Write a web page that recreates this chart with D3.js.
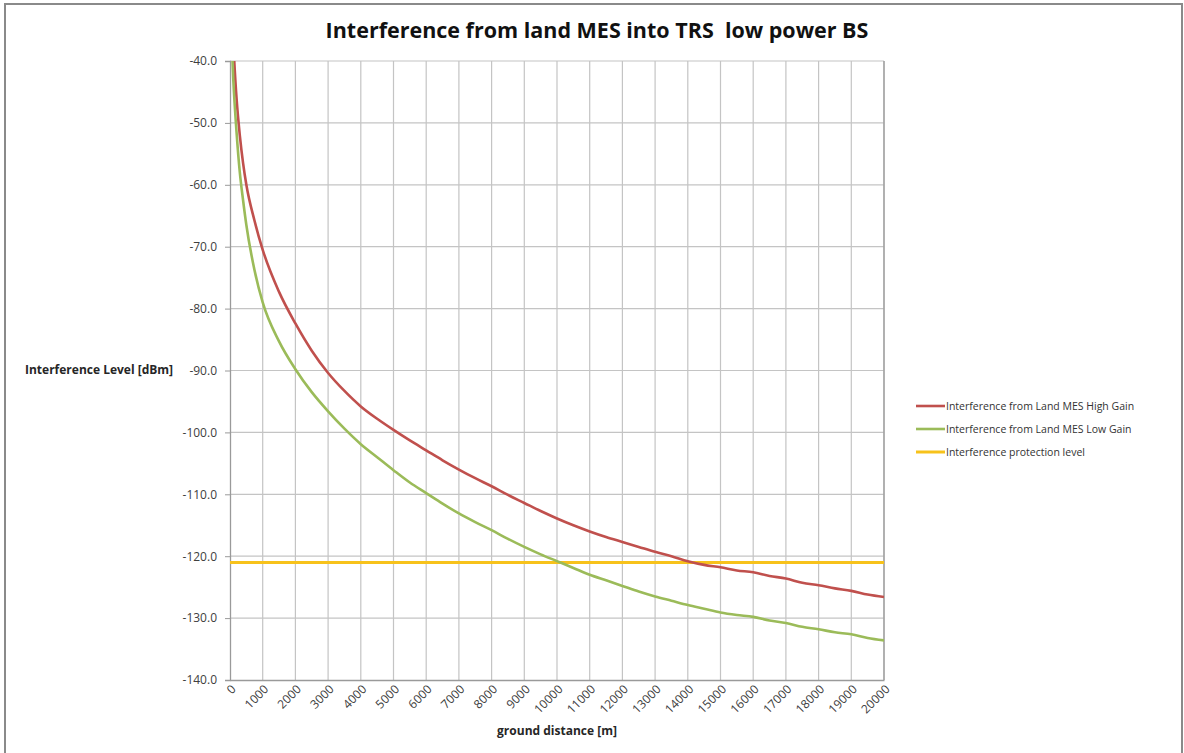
<!DOCTYPE html>
<html>
<head>
<meta charset="utf-8">
<script src="https://cdn.jsdelivr.net/npm/d3@7"></script>
<style>
  body { margin: 0; background: #fff; }
  svg { font-family: "Open Sans", "Liberation Sans", sans-serif; }
</style>
</head>
<body>
<script>
// data
var distances = [0, 100, 200, 300, 400, 500, 750, 1000, 1500, 2000, 2500, 3000, 3500, 4000, 4500,
  5000, 5500, 6000, 6500, 7000, 7500, 8000, 8500, 9000, 9500, 10000, 10500, 11000, 11500,
  12000, 12500, 13000, 13500, 14000, 14500, 15000, 15500, 16000, 16500, 17000, 17500,
  18000, 18500, 19000, 19500, 20000];
var highGain = [-25, -37, -46, -52, -56.5, -60, -65.8, -70.5, -77.3, -82.4, -86.8, -90.4, -93.3, -95.8, -97.8,
  -99.6, -101.3, -102.9, -104.5, -106.0, -107.4, -108.7, -110.1, -111.4, -112.7, -113.9, -115.0, -116.0, -116.9,
  -117.7, -118.5, -119.3, -120.0, -120.8, -121.4, -121.8, -122.3, -122.6, -123.2, -123.6, -124.3,
  -124.7, -125.2, -125.6, -126.2, -126.6];
var lowGain = [-30, -43, -51.5, -58, -62.5, -66.5, -73.8, -79, -85.3, -89.8, -93.5, -96.6, -99.4, -101.9, -104,
  -106.1, -108.1, -109.8, -111.5, -113.1, -114.5, -115.8, -117.2, -118.5, -119.7, -120.8, -121.9, -123.0, -123.9,
  -124.8, -125.7, -126.5, -127.2, -127.9, -128.5, -129.1, -129.5, -129.8, -130.4, -130.8, -131.4,
  -131.8, -132.3, -132.6, -133.2, -133.6];
var protectionLevel = -121;
var xTicks = d3.range(0, 20001, 1000);
var yTicks = d3.range(-140, -39, 10);
var seriesNames = ["Interference from Land MES High Gain", "Interference from Land MES Low Gain", "Interference protection level"];
var seriesColors = ["#c0504d", "#9bbb59", "#f7c21b"];

// svg container
var width = 1184;
var height = 753;

var plot = { left: 230, right: 884, top: 61, bottom: 680 };

var svg = d3.select("body").append("svg")
    .attr("width", width)
    .attr("height", height);

// outer chart border
svg.append("rect")
    .attr("x", 5).attr("y", 4)
    .attr("width", 1177).attr("height", 752)
    .attr("fill", "#fff")
    .attr("stroke", "#8a8a8a")
    .attr("stroke-width", 2);

// scales
var xScale = d3.scaleLinear().domain([0, 20000]).range([plot.left, plot.right]);
var yScale = d3.scaleLinear().domain([-140, -40]).range([plot.bottom, plot.top]);

// gridlines
svg.append("g").selectAll("line")
    .data(xTicks.slice(1))
    .enter().append("line")
    .attr("x1", d => xScale(d)).attr("x2", d => xScale(d))
    .attr("y1", plot.top).attr("y2", plot.bottom)
    .attr("stroke", "#c4c4c4").attr("stroke-width", 1.2);

svg.append("g").selectAll("line")
    .data(yTicks.slice(1))
    .enter().append("line")
    .attr("x1", plot.left).attr("x2", plot.right)
    .attr("y1", d => yScale(d)).attr("y2", d => yScale(d))
    .attr("stroke", "#c4c4c4").attr("stroke-width", 1.2);

// y axis (plain hyphen for the minus sign, as in the original)
var yAxis = d3.axisLeft(yScale)
    .tickValues(yTicks)
    .tickFormat(d => d.toFixed(1))
    .tickSize(5)
    .tickPadding(8);

var yAxisG = svg.append("g")
    .attr("transform", `translate(${plot.left}, 0)`)
    .call(yAxis);
yAxisG.select(".domain").attr("stroke", "#9a9a9a").attr("stroke-width", 1.3);
yAxisG.selectAll(".tick line").attr("stroke", "#9a9a9a");
yAxisG.selectAll("text")
    .attr("fill", "#404040")
    .style("font-size", "12px")
    .style("font-family", "'Open Sans', sans-serif");

// x axis
var xAxis = d3.axisBottom(xScale)
    .tickValues(xTicks)
    .tickFormat(d => String(d))
    .tickSize(0);

var xAxisG = svg.append("g")
    .attr("transform", `translate(0, ${plot.bottom})`)
    .call(xAxis);
xAxisG.select(".domain").attr("stroke", "#9a9a9a").attr("stroke-width", 1.3);
xAxisG.selectAll("text")
    .attr("fill", "#404040")
    .attr("text-anchor", "end")
    .attr("dy", null)
    .attr("y", 0)
    .attr("transform", "translate(6, 10) rotate(-45)")
    .style("font-size", "12px")
    .style("font-family", "'Open Sans', sans-serif");

// right edge of plot area
svg.append("line")
    .attr("x1", plot.right).attr("x2", plot.right)
    .attr("y1", plot.top).attr("y2", plot.bottom)
    .attr("stroke", "#9a9a9a").attr("stroke-width", 1.3);

// clip to plot area
svg.append("clipPath").attr("id", "plotClip")
  .append("rect")
    .attr("x", plot.left).attr("y", plot.top)
    .attr("width", plot.right - plot.left).attr("height", plot.bottom - plot.top);

var line = d3.line()
    .x((d, i) => xScale(distances[i]))
    .y(d => yScale(d))
    .curve(d3.curveMonotoneX);

var lines = svg.append("g").attr("clip-path", "url(#plotClip)");

lines.append("path")
    .datum(distances.map(() => protectionLevel))
    .attr("d", line)
    .attr("fill", "none")
    .attr("stroke", seriesColors[2])
    .attr("stroke-width", 3);

lines.append("path")
    .datum(highGain)
    .attr("d", line)
    .attr("fill", "none")
    .attr("stroke", seriesColors[0])
    .attr("stroke-width", 2.6);

lines.append("path")
    .datum(lowGain)
    .attr("d", line)
    .attr("fill", "none")
    .attr("stroke", seriesColors[1])
    .attr("stroke-width", 2.6);

// title
svg.append("text")
    .attr("x", 597).attr("y", 38)
    .attr("text-anchor", "middle")
    .style("font-size", "21.5px")
    .style("font-weight", "bold")
    .style("white-space", "pre")
    .attr("fill", "#111")
    .text("Interference from land MES into TRS  low power BS");

// axis titles
svg.append("text")
    .attr("x", 25).attr("y", 374)
    .style("font-size", "12px")
    .style("font-weight", "bold")
    .attr("fill", "#262626")
    .text("Interference Level [dBm]");

svg.append("text")
    .attr("x", 557).attr("y", 735)
    .attr("text-anchor", "middle")
    .style("font-size", "12px")
    .style("font-weight", "bold")
    .attr("fill", "#262626")
    .text("ground distance [m]");

// legend
var legend = svg.append("g").selectAll("g")
    .data(seriesNames)
    .enter().append("g")
    .attr("transform", (d, i) => `translate(916, ${406 + i * 23})`);

legend.append("line")
    .attr("x1", 0).attr("x2", 29)
    .attr("stroke", (d, i) => seriesColors[i])
    .attr("stroke-width", (d, i) => i === 2 ? 3 : 2.6);

legend.append("text")
    .attr("x", 30).attr("y", 4)
    .style("font-size", "10.5px")
    .attr("fill", "#333")
    .text(d => d);
</script>
</body>
</html>
